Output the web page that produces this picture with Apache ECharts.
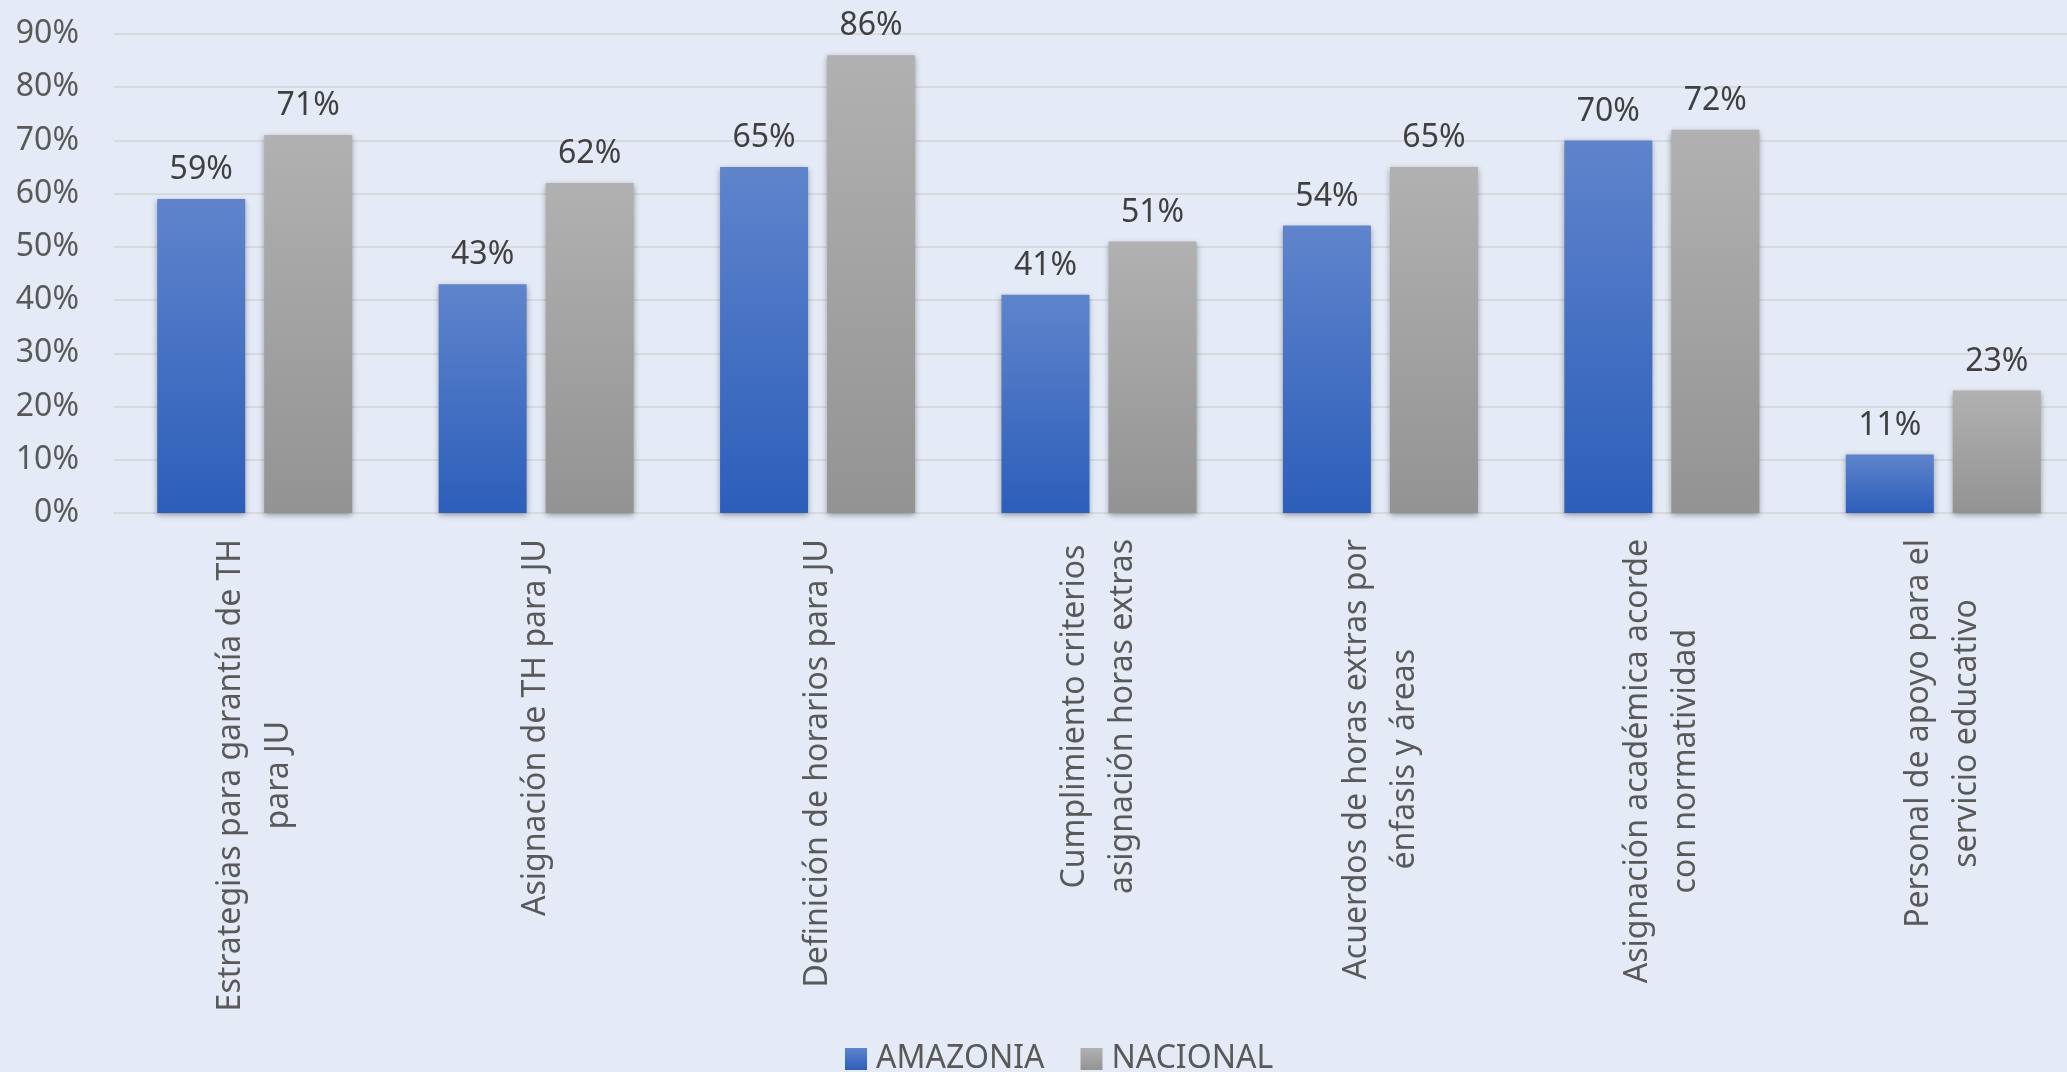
<!DOCTYPE html>
<html>
<head>
<meta charset="utf-8">
<script src="https://cdn.jsdelivr.net/npm/echarts@6/dist/echarts.min.js"></script>
<style>
html,body{margin:0;padding:0;background:#E4EBF7;}
#chart{width:2067px;height:1072px;}
</style>
</head>
<body>
<div id="chart"></div>
<script>
const categories = [
  "Estrategias para garantía de TH\npara JU",
  "Asignación de TH para JU",
  "Definición de horarios para JU",
  "Cumplimiento criterios\nasignación horas extras",
  "Acuerdos de horas extras por\nénfasis y áreas",
  "Asignación académica acorde\ncon normatividad",
  "Personal de apoyo para el\nservicio educativo"
];
const amazonia = [59, 43, 65, 41, 54, 70, 11];
const nacional = [71, 62, 86, 51, 65, 72, 23];
const seriesNames = ["AMAZONIA", "NACIONAL"];
const yTicks = { min: 0, max: 90, interval: 10 };

const FONT = "'Noto Sans', 'Open Sans', sans-serif";
const chart = echarts.init(document.getElementById('chart'));

function grad(top, bottom) {
  return new echarts.graphic.LinearGradient(0, 0, 0, 1, [
    { offset: 0, color: top }, { offset: 1, color: bottom }
  ]);
}
const blue = grad('#5F84CC', '#2C5EBA');
const gray = grad('#B1B1B1', '#939393');

const labelStyle = {
  show: true, position: 'top', distance: 13,
  formatter: '{c}%', color: '#404040', fontSize: 32, fontFamily: FONT
};
const itemShadow = { shadowBlur: 6, shadowColor: 'rgba(0,0,0,0.35)', shadowOffsetX: 0, shadowOffsetY: 2 };

chart.setOption({
  backgroundColor: '#E4EBF7',
  animation: false,
  grid: { left: 114, width: 1970, top: 34, bottom: 559, containLabel: false, outerBoundsMode: 'none' },
  legend: {
    top: 1036, left: 840,
    itemWidth: 22, itemHeight: 22, itemGap: 36,
    icon: 'rect',
    textStyle: { color: '#595959', fontSize: 32, fontFamily: FONT, lineHeight: 36, padding: [0, 0, 0, 4] },
    data: seriesNames
  },
  xAxis: {
    type: 'category',
    data: categories,
    axisLine: { show: true, lineStyle: { color: '#D6D9DE', width: 2 } },
    axisTick: { show: false },
    axisLabel: {
      interval: 0, rotate: 90, margin: 26,
      formatter: function (v) {
        return v.split('\n').map(function (l) { return '{c|' + l + '}'; }).join('\n');
      },
      rich: { c: { align: 'center', fontSize: 32, lineHeight: 48, color: '#595959', fontFamily: FONT } }
    }
  },
  yAxis: {
    type: 'value',
    min: yTicks.min, max: yTicks.max, interval: yTicks.interval,
    axisLine: { show: false },
    axisTick: { show: false },
    splitLine: { lineStyle: { color: '#D6D9DE', width: 2 } },
    axisLabel: { formatter: '{value}%', color: '#595959', fontSize: 32, fontFamily: FONT, margin: 35 }
  },
  series: [
    {
      name: seriesNames[0], type: 'bar', data: amazonia,
      barWidth: 88, barGap: '21.6%',
      itemStyle: Object.assign({ color: blue }, itemShadow),
      label: labelStyle
    },
    {
      name: seriesNames[1], type: 'bar', data: nacional,
      barWidth: 88, barGap: '21.6%',
      itemStyle: Object.assign({ color: gray }, itemShadow),
      label: labelStyle
    }
  ]
});
</script>
</body>
</html>
